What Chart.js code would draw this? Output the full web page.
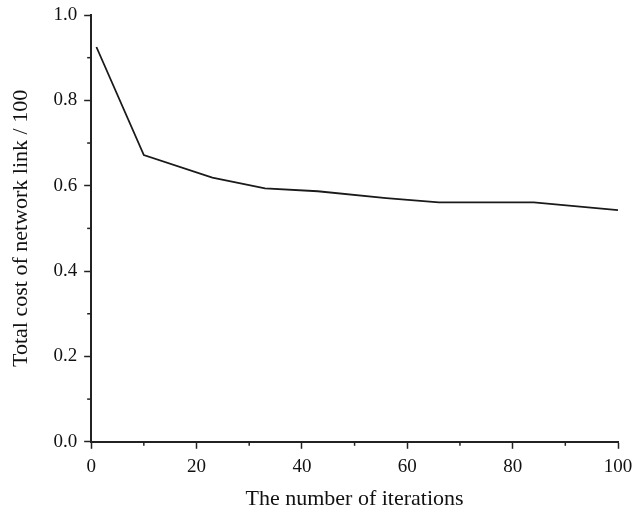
<!DOCTYPE html>
<html>
<head>
<meta charset="utf-8">
<script src="https://cdn.jsdelivr.net/npm/chart.js@4"></script>
<style>
  html, body { margin: 0; padding: 0; background: #fff; }
  #wrap { width: 635px; height: 510px; }
</style>
</head>
<body>
<div id="wrap"><canvas id="myChart"></canvas></div>
<script>
// Données
const iterations = [1, 10, 23, 33, 43, 56, 66, 84, 100];
const totalCost = [0.925, 0.672, 0.619, 0.594, 0.587, 0.571, 0.561, 0.561, 0.543];
const xTicks = [0, 20, 40, 60, 80, 100];
const yTicks = [0.0, 0.2, 0.4, 0.6, 0.8, 1.0];

const points = iterations.map((x, i) => ({ x: x, y: totalCost[i] }));

// petites graduations entre les graduations principales
const minorTicks = {
  id: 'minorTicks',
  afterDraw(chart) {
    const c = chart.ctx;
    const xs = chart.scales.x, ys = chart.scales.y;
    c.save();
    c.strokeStyle = '#222';
    c.lineWidth = 1.5;
    for (let i = 0; i < xTicks.length - 1; i++) {
      const px = xs.getPixelForValue((xTicks[i] + xTicks[i + 1]) / 2);
      c.beginPath(); c.moveTo(px, ys.bottom); c.lineTo(px, ys.bottom + 4); c.stroke();
    }
    for (let i = 0; i < yTicks.length - 1; i++) {
      const py = ys.getPixelForValue((yTicks[i] + yTicks[i + 1]) / 2);
      c.beginPath(); c.moveTo(xs.left, py); c.lineTo(xs.left - 4, py); c.stroke();
    }
    c.restore();
  }
};

const ctx = document.getElementById('myChart').getContext('2d');
const myChart = new Chart(ctx, {
  type: 'scatter',
  data: {
    datasets: [{
      data: points,
      showLine: true,
      borderColor: '#1a1a1a',
      borderWidth: 1.8,
      pointRadius: 0,
      tension: 0
    }]
  },
  options: {
    responsive: true,
    maintainAspectRatio: false,
    animation: false,
    layout: { padding: { top: 0, right: 0, left: 8, bottom: -2 } },
    plugins: { legend: { display: false }, tooltip: { enabled: false } },
    scales: {
      x: {
        type: 'linear',
        min: 0, max: 100,
        afterBuildTicks: s => { s.ticks = xTicks.map(v => ({ value: v })); },
        afterFit: s => { s.paddingRight = 17; },
        ticks: { color: '#111', font: { family: 'Liberation Serif', size: 19 }, padding: 7 },
        grid: { display: true, drawOnChartArea: false, tickLength: 7, tickColor: '#222', tickWidth: 1.5 },
        border: { color: '#222', width: 2 },
        title: { display: true, text: 'The number of iterations', color: '#111',
                 font: { family: 'Liberation Serif', size: 22 }, padding: { top: 0, bottom: 0 } }
      },
      y: {
        type: 'linear',
        min: 0, max: 1,
        afterBuildTicks: s => { s.ticks = yTicks.map(v => ({ value: v })); },
        afterFit: s => { s.paddingTop = 15; },
        ticks: { color: '#111', font: { family: 'Liberation Serif', size: 19 }, padding: 7,
                 callback: v => v.toFixed(1) },
        grid: { display: true, drawOnChartArea: false, tickLength: 7, tickColor: '#222', tickWidth: 1.5 },
        border: { color: '#222', width: 2 },
        title: { display: true, text: 'Total cost of network link / 100', color: '#111',
                 font: { family: 'Liberation Serif', size: 22 }, padding: { top: 0, bottom: 12 } }
      }
    }
  },
  plugins: [minorTicks]
});
</script>
</body>
</html>
